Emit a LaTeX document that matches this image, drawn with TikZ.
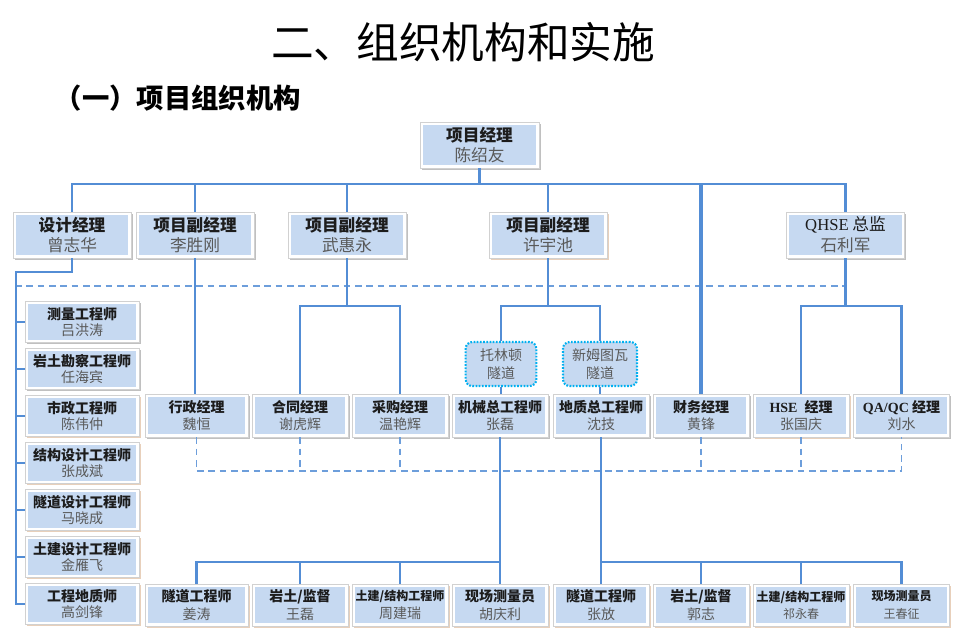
\documentclass[tikz,border=0pt]{standalone}
\usepackage{fontspec}
\setmainfont{Noto Sans CJK SC}
\newfontfamily\latinfont{Liberation Serif}
\usetikzlibrary{positioning,shadows}

\definecolor{boxfill}{RGB}{198,217,241}
\definecolor{linkblue}{RGB}{83,141,213}
\definecolor{namegray}{RGB}{89,89,89}
\definecolor{titleblack}{RGB}{28,28,28}
\definecolor{dotcyan}{RGB}{0,176,240}
\colorlet{boxshadow}{black!55}
\definecolor{shadetan}{RGB}{205,150,105}

\begin{document}
\begin{tikzpicture}[x=0.75pt, y=-0.75pt,
  box/.style={draw=black!18, line width=0.5pt, fill=white, inner sep=0pt, align=center, text=titleblack,
    path picture={\fill[boxfill] ([shift={(2.2pt,2.2pt)}]path picture bounding box.south west)
      rectangle ([shift={(-2.2pt,-2.2pt)}]path picture bounding box.north east);},
    drop shadow={shadow xshift=1.3pt, shadow yshift=-1.3pt, opacity=0.45, fill=boxshadow}},
  warm/.style={/utils/exec={\colorlet{boxshadow}{shadetan}}},
  head/.style={box, minimum width=88.5pt, minimum height=34.5pt, font=\fontsize{12.5}{15.5}\selectfont},
  side/.style={box, minimum width=85.5pt, minimum height=30.75pt, font=\fontsize{10.5}{12.5}\selectfont},
  staff/.style={box, minimum width=72pt, minimum height=32.25pt, font=\fontsize{10.5}{13}\selectfont},
  site/.style={draw=dotcyan, line width=1.6pt, dash pattern=on 1.3pt off 1.1pt, rounded corners=5pt,
    fill=boxfill, inner sep=0pt, align=center, text=namegray, font=\fontsize{10.5}{13}\selectfont,
    minimum height=33pt},
  conn/.style={draw=linkblue, line width=2.2pt},
  dconn/.style={draw=linkblue!85, line width=1.4pt, dash pattern=on 5pt off 3.5pt}
]
\useasboundingbox (0,0) rectangle (962,637);

% titles
\node[font=\fontsize{32}{36}\selectfont, text=black] (title) at (463,42) {二、组织机构和实施};
\node[font=\fontsize{20.5}{24}\selectfont\bfseries, anchor=west, text=black] (subtitle) at (50,98) {（一）项目组织机构};

% top and second level
\node[head, minimum width=89.25pt] (pm) at (479.5,145) {\textbf{项目经理}\\\textcolor{namegray}{陈绍友}};
\node[head] (sj) at (72,235) {\textbf{设计经理}\\\textcolor{namegray}{曾志华}};
\node[head] (fa) at (195,235) {\textbf{项目副经理}\\\textcolor{namegray}{李胜刚}};
\node[head] (fb) at (347,235) {\textbf{项目副经理}\\\textcolor{namegray}{武惠永}};
\node[head, warm] (fc) at (548,235) {\textbf{项目副经理}\\\textcolor{namegray}{许宇池}};
\node[head] (qhse) at (845.5,235) {{\latinfont QHSE} 总监\\\textcolor{namegray}{石利军}};

% design group
\node[side] (d1) at (82,322) {\textbf{测量工程师}\\\textcolor{namegray}{吕洪涛}};
\node[side] (d2) at (82,369) {\textbf{岩土勘察工程师}\\\textcolor{namegray}{任海宾}};
\node[side, warm] (d3) at (82,416) {\textbf{市政工程师}\\\textcolor{namegray}{陈伟仲}};
\node[side, warm] (d4) at (82,463) {\textbf{结构设计工程师}\\\textcolor{namegray}{张成斌}};
\node[side, warm] (d5) at (82,510) {\textbf{隧道设计工程师}\\\textcolor{namegray}{马晓成}};
\node[side, warm] (d6) at (82,557) {\textbf{土建设计工程师}\\\textcolor{namegray}{金雁飞}};
\node[side, warm] (d7) at (82,604) {\textbf{工程地质师}\\\textcolor{namegray}{高剑锋}};

% tunnels
\node[site, minimum width=53pt] (tl) at (501,364) {托林顿\\隧道};
\node[site, minimum width=55.5pt] (xm) at (600,364) {新姆图瓦\\隧道};

% third level
\node[staff, minimum width=77pt] (xz) at (196.5,415.5) {\textbf{行政经理}\\\textcolor{namegray}{魏恒}};
\node[staff] (ht) at (300,415.5) {\textbf{合同经理}\\\textcolor{namegray}{谢虎辉}};
\node[staff] (cg) at (400,415.5) {\textbf{采购经理}\\\textcolor{namegray}{温艳辉}};
\node[staff] (jx) at (500,415.5) {\textbf{机械总工程师}\\\textcolor{namegray}{张磊}};
\node[staff] (dz) at (601,415.5) {\textbf{地质总工程师}\\\textcolor{namegray}{沈技}};
\node[staff] (cw) at (701,415.5) {\textbf{财务经理}\\\textcolor{namegray}{黄锋}};
\node[staff, warm] (hse) at (801,415.5) {\textbf{{\latinfont HSE}\enspace 经理}\\\textcolor{namegray}{张国庆}};
\node[staff] (qa) at (901.5,415.5) {\textbf{{\latinfont QA/QC} 经理}\\\textcolor{namegray}{刘水}};

% site crews
\node[staff, warm, minimum width=77pt, minimum height=31.5pt] (l1) at (196.5,605) {\textbf{隧道工程师}\\\textcolor{namegray}{姜涛}};
\node[staff, warm, minimum height=31.5pt] (l2) at (300,605) {\textbf{岩土/监督}\\\textcolor{namegray}{王磊}};
\node[staff, warm, minimum height=31.5pt] (l3) at (400,605) {\textbf{\fontsize{9}{11}\selectfont 土建/结构工程师}\\\textcolor{namegray}{周建瑞}};
\node[staff, warm, minimum height=31.5pt] (l4) at (500,605) {\textbf{现场测量员}\\\textcolor{namegray}{胡庆利}};
\node[staff, warm, minimum height=31.5pt] (r1) at (601,605) {\textbf{隧道工程师}\\\textcolor{namegray}{张放}};
\node[staff, warm, minimum height=31.5pt] (r2) at (701,605) {\textbf{岩土/监督}\\\textcolor{namegray}{郭志}};
\node[staff, warm, minimum height=31.5pt] (r3) at (801,605) {\textbf{\fontsize{9}{11}\selectfont 土建/结构工程师}\\\textcolor{namegray}{\fontsize{9}{11}\selectfont 祁永春}};
\node[staff, warm, minimum height=31.5pt] (r4) at (901.5,605) {\textbf{\fontsize{9}{11}\selectfont 现场测量员}\\\textcolor{namegray}{\fontsize{9}{11}\selectfont 王春征}};

\coordinate (topbus) at (0,184);
\coordinate (midbus) at (0,306);
\coordinate (lowbus) at (0,562);
\coordinate (spine) at (16,272);
\coordinate (dashL) at (15,286);
\coordinate (dashR) at (847,286);
\coordinate (dashlow) at (0,471);

% dashed links
\draw[dconn] (dashL) -- (dashR);
\draw[dconn] (xz.south) |- (dashlow -| qa.south) -- (qa.south);
\foreach \n in {ht,cg,cw,hse}
  \draw[dconn] (\n.south) -- (\n.south |- dashlow);

% solid links
\draw[conn] (pm.south) -- (pm.south |- topbus);
\foreach \n in {sj,fa,fb,fc,qhse}
  \draw[conn] (pm.south |- topbus) -| (\n.north);
\draw[conn, line width=3pt] (cw.north |- topbus) -- (cw.north);

\draw[conn] (sj.south) |- (spine) -- (spine |- d7.west) -- (d7.west);
\foreach \n in {d1,d2,d3,d4,d5,d6}
  \draw[conn] (spine |- \n.west) -- (\n.west);

\draw[conn] (fa.south) -- (fa.south |- xz.north);

\draw[conn] (fb.south) -- (fb.south |- midbus);
\foreach \n in {ht,cg}
  \draw[conn] (fb.south |- midbus) -| (\n.north);

\draw[conn] (fc.south) -- (fc.south |- midbus);
\foreach \n in {tl,xm}
  \draw[conn] (fc.south |- midbus) -| (\n.north);
\draw[conn] (tl.south) -- (tl.south |- jx.north);
\draw[conn] (xm.south) -- (xm.south |- dz.north);

\draw[conn] (qhse.south) -- (qhse.south |- midbus);
\foreach \n in {hse,qa}
  \draw[conn] (qhse.south |- midbus) -| (\n.north);

\draw[conn] (jx.south) -- (jx.south |- lowbus);
\foreach \n in {l1,l2,l3,l4}
  \draw[conn] (jx.south |- lowbus) -| (\n.north);
\draw[conn] (dz.south) -- (dz.south |- lowbus);
\foreach \n in {r1,r2,r3,r4}
  \draw[conn] (dz.south |- lowbus) -| (\n.north);

\end{tikzpicture}
\end{document}
